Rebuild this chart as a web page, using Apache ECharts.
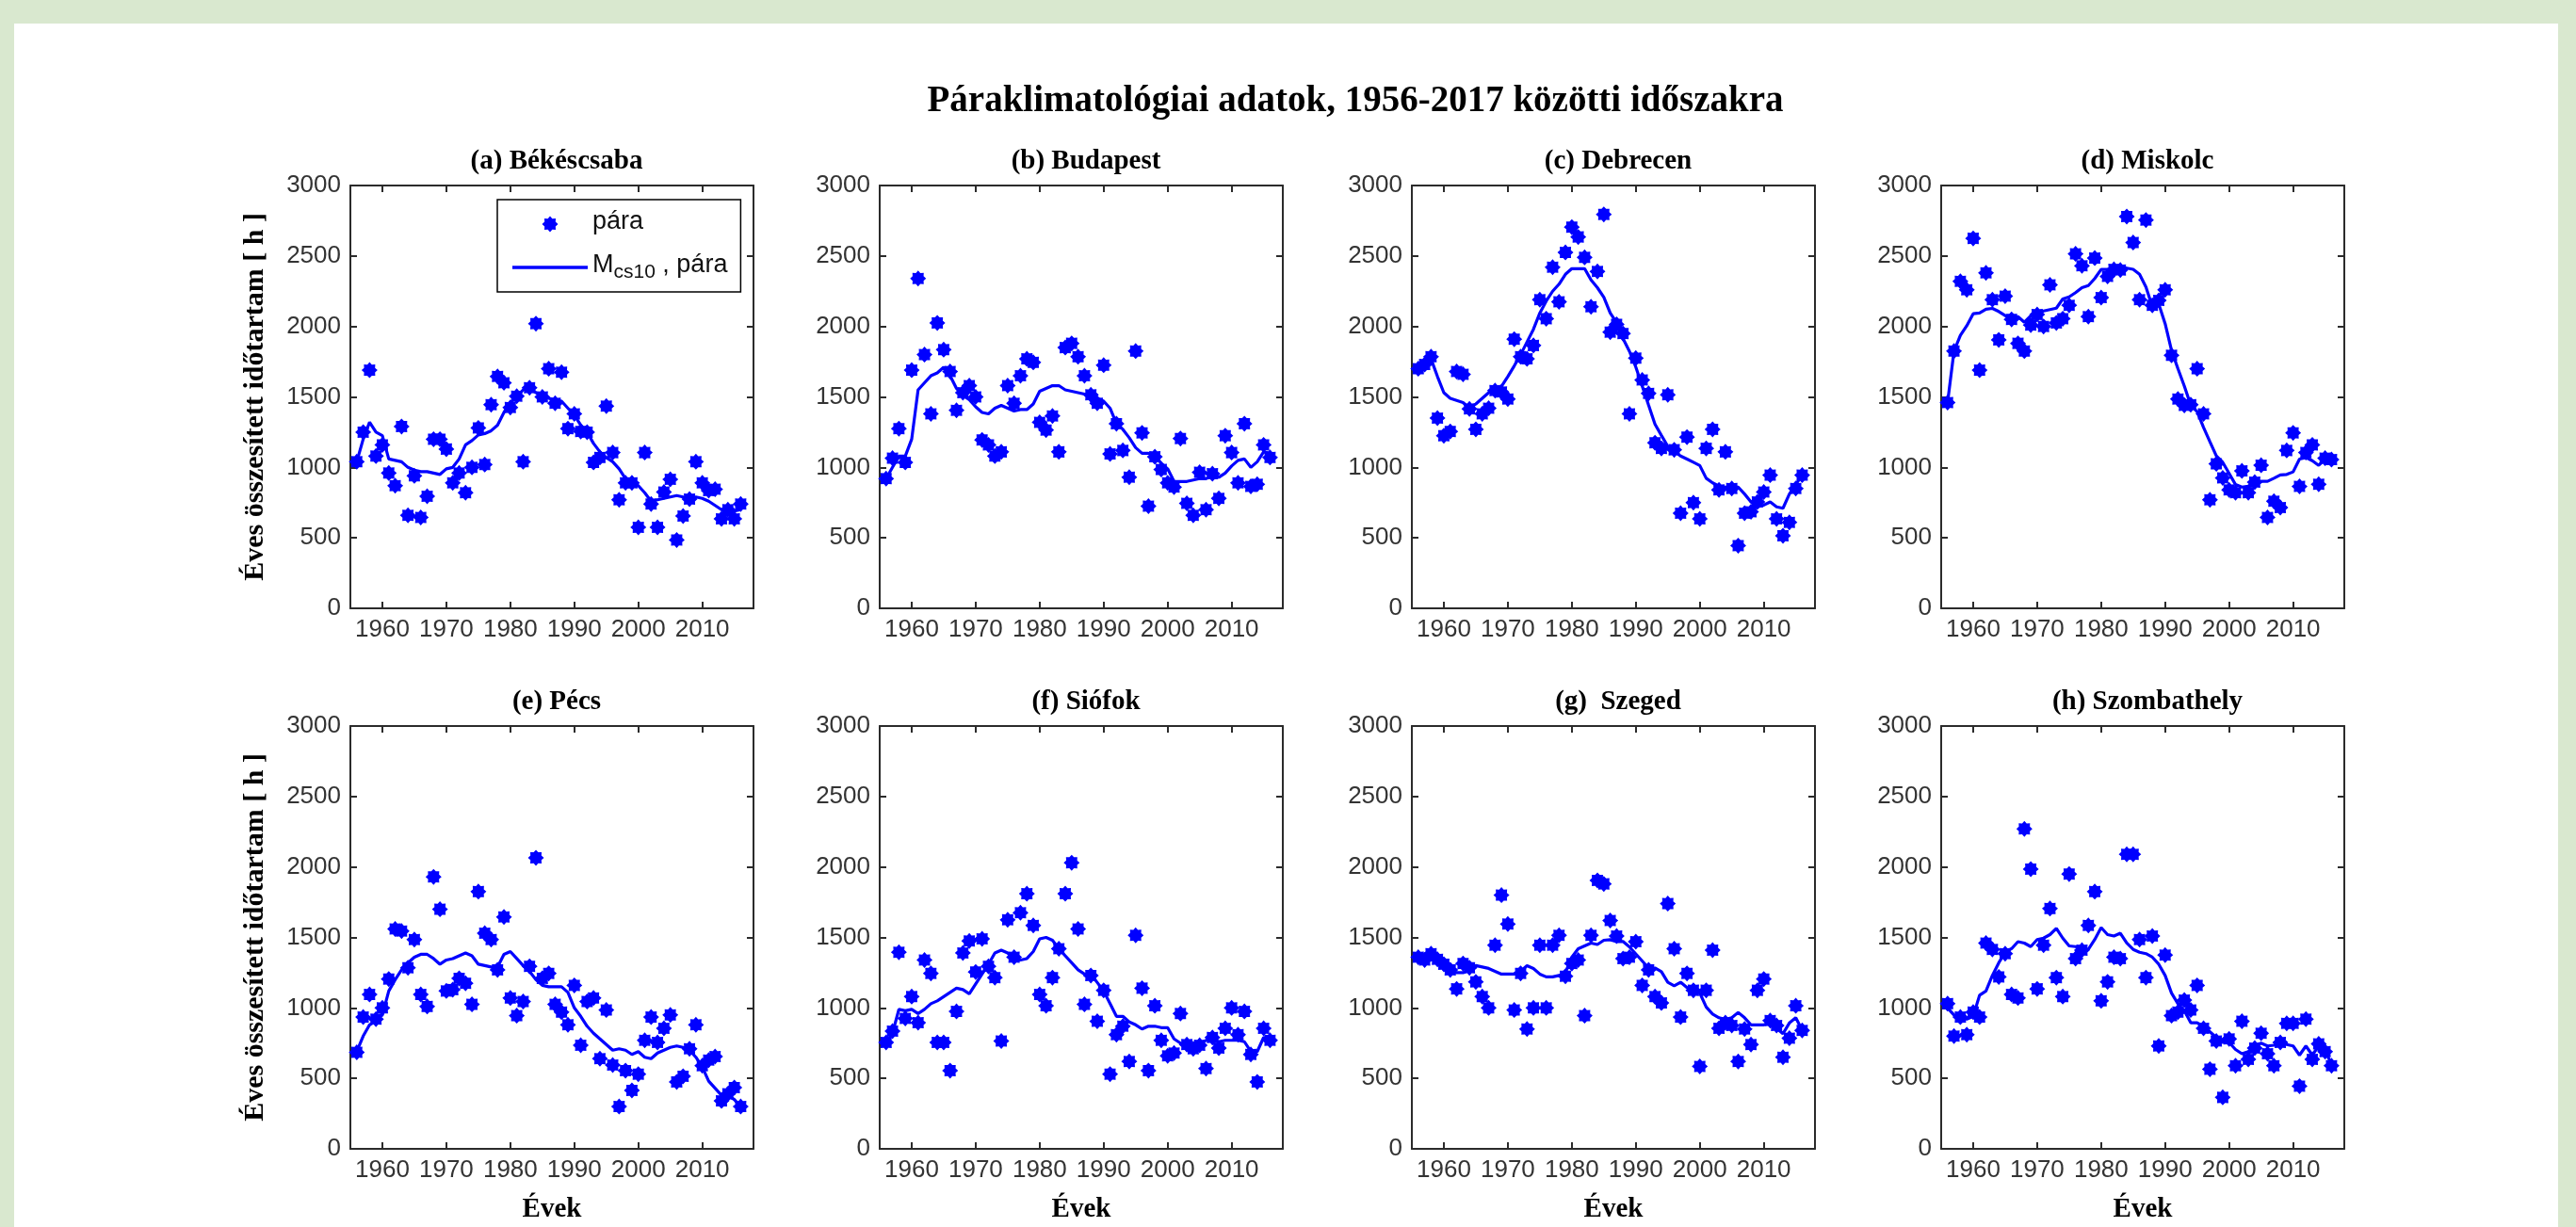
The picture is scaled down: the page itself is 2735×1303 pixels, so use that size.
<!DOCTYPE html>
<html>
<head>
<meta charset="utf-8">
<script src="https://cdn.jsdelivr.net/npm/echarts@6/dist/echarts.min.js"></script>
<style>
  html, body { margin: 0; padding: 0; background: #d9e8cf; }
  #paper { position: absolute; left: 15px; top: 25px; width: 2701px; height: 1278px; background: #fff; }
  #chart { position: absolute; left: 0; top: 0; width: 2735px; height: 1303px; }
</style>
</head>
<body>
<div id="paper"></div>
<div id="chart"></div>
<script>
// évek (x)
const years = [1956, 1957, 1958, 1959, 1960, 1961, 1962, 1963, 1964, 1965,
  1966, 1967, 1968, 1969, 1970, 1971, 1972, 1973, 1974, 1975,
  1976, 1977, 1978, 1979, 1980, 1981, 1982, 1983, 1984, 1985,
  1986, 1987, 1988, 1989, 1990, 1991, 1992, 1993, 1994, 1995,
  1996, 1997, 1998, 1999, 2000, 2001, 2002, 2003, 2004, 2005,
  2006, 2007, 2008, 2009, 2010, 2011, 2012, 2013, 2014, 2015, 2016]
const yearTicks = [1960, 1970, 1980, 1990, 2000, 2010]

const stationTitles = ['(a) Békéscsaba', '(b) Budapest', '(c) Debrecen', '(d) Miskolc',
  '(e) Pécs', '(f) Siófok', '(g)  Szeged', '(h) Szombathely']

// éves pára órák
const paraA = [1040, 1250, 1690, 1080, 1160, 960, 870, 1290, 660, 940,
  645, 795, 1200, 1200, 1130, 890, 960, 820, 1000, 1280,
  1020, 1445, 1645, 1600, 1425, 1505, 1040, 1565, 2020, 1500,
  1700, 1455, 1675, 1275, 1380, 1255, 1250, 1035, 1070, 1435,
  1105, 770, 890, 890, 575, 1105, 740, 575, 825, 915,
  485, 655, 775, 1040, 890, 835, 845, 635, 700, 635, 740]
const paraB = [920, 1065, 1275, 1035, 1690, 2340, 1800, 1380, 2025, 1835,
  1680, 1405, 1530, 1580, 1500, 1195, 1160, 1080, 1110, 1580,
  1455, 1650, 1770, 1745, 1320, 1265, 1365, 1110, 1850, 1880,
  1785, 1650, 1515, 1455, 1725, 1095, 1310, 1120, 930, 1825,
  1245, 725, 1075, 985, 890, 860, 1205, 745, 660, 965,
  700, 955, 780, 1225, 1105, 890, 1310, 865, 880, 1160, 1070]
const paraC = [1700, 1730, 1785, 1350, 1225, 1255, 1680, 1660, 1415, 1270,
  1380, 1420, 1545, 1535, 1485, 1910, 1785, 1770, 1865, 2190,
  2055, 2420, 2175, 2525, 2705, 2635, 2490, 2140, 2390, 2795,
  1960, 2015, 1950, 1380, 1775, 1620, 1525, 1175, 1135, 1515,
  1125, 675, 1215, 750, 635, 1135, 1270, 840, 1110, 850,
  445, 675, 685, 755, 825, 945, 635, 515, 610, 850, 945]
const paraD = [1460, 1825, 2320, 2260, 2625, 1690, 2380, 2190, 1905, 2215,
  2050, 1880, 1825, 2010, 2085, 2000, 2295, 2025, 2055, 2150,
  2515, 2430, 2070, 2485, 2205, 2355, 2405, 2400, 2780, 2595,
  2190, 2755, 2150, 2185, 2260, 1795, 1485, 1440, 1445, 1700,
  1380, 770, 1025, 925, 840, 820, 975, 820, 895, 1015,
  645, 760, 715, 1120, 1245, 865, 1105, 1160, 880, 1065, 1055]
const paraE = [685, 935, 1095, 920, 1000, 1205, 1560, 1545, 1285, 1485,
  1095, 1010, 1930, 1700, 1120, 1130, 1210, 1175, 1025, 1825,
  1530, 1485, 1270, 1645, 1070, 945, 1045, 1295, 2065, 1210,
  1245, 1025, 970, 880, 1160, 735, 1045, 1070, 640, 985,
  595, 300, 555, 415, 530, 770, 935, 755, 855, 950,
  475, 515, 710, 880, 590, 630, 655, 340, 390, 435, 300]
const paraF = [755, 835, 1395, 925, 1080, 895, 1340, 1245, 755, 755,
  555, 975, 1390, 1475, 1255, 1490, 1295, 1215, 765, 1625,
  1360, 1675, 1810, 1585, 1095, 1015, 1215, 1420, 1810, 2030,
  1560, 1025, 1230, 905, 1125, 530, 810, 870, 620, 1515,
  1140, 555, 1015, 770, 660, 680, 960, 740, 710, 735,
  570, 790, 715, 855, 1000, 810, 975, 670, 475, 855, 770]
const paraG = [1360, 1340, 1385, 1345, 1310, 1270, 1135, 1315, 1285, 1185,
  1080, 1000, 1445, 1800, 1595, 985, 1245, 850, 1000, 1445,
  1000, 1445, 1515, 1225, 1315, 1340, 945, 1515, 1905, 1880,
  1620, 1510, 1350, 1360, 1470, 1160, 1270, 1080, 1035, 1740,
  1420, 935, 1245, 1125, 585, 1125, 1410, 855, 895, 875,
  620, 850, 740, 1125, 1205, 910, 875, 650, 785, 1015, 840]
const paraH = [1030, 800, 935, 810, 970, 935, 1460, 1415, 1220, 1385,
  1095, 1070, 2270, 1985, 1135, 1445, 1705, 1215, 1080, 1950,
  1350, 1410, 1585, 1825, 1050, 1185, 1360, 1350, 2090, 2090,
  1485, 1215, 1510, 730, 1375, 945, 970, 1055, 985, 1160,
  855, 565, 765, 365, 780, 590, 905, 635, 715, 820,
  675, 590, 755, 890, 890, 445, 920, 635, 745, 690, 590]

// Mcs10 simított görbék
const mcsA = [1040, 1200, 1320, 1250, 1225, 1060, 1050, 1040, 1000, 980,
  970, 970, 960, 950, 990, 1000, 1060, 1160, 1190, 1230,
  1240, 1260, 1300, 1390, 1460, 1500, 1550, 1570, 1530, 1500,
  1490, 1480, 1470, 1420, 1370, 1300, 1250, 1170, 1110, 1070,
  1040, 990, 920, 890, 870, 820, 760, 770, 780, 790,
  800, 790, 780, 790, 780, 760, 730, 700, 690, 690, 700]
const mcsB = [920, 1000, 1080, 1080, 1200, 1550, 1600, 1650, 1670, 1710,
  1650, 1560, 1510, 1480, 1430, 1390, 1380, 1420, 1440, 1420,
  1400, 1410, 1410, 1450, 1540, 1560, 1580, 1580, 1550, 1540,
  1530, 1520, 1520, 1490, 1470, 1420, 1310, 1270, 1210, 1140,
  1100, 1100, 1080, 1030, 990, 900, 900, 900, 910, 920,
  920, 940, 930, 960, 1010, 1050, 1060, 1000, 1040, 1110, 1100]
const mcsC = [1700, 1735, 1770, 1645, 1530, 1490, 1475, 1460, 1420, 1450,
  1490, 1530, 1560, 1575, 1645, 1720, 1800, 1890, 1980, 2095,
  2180, 2250, 2300, 2370, 2410, 2410, 2410, 2330, 2275, 2207,
  2095, 2027, 1914, 1824, 1712, 1577, 1441, 1306, 1227, 1149,
  1115, 1081, 1059, 1036, 1013, 923, 890, 867, 860, 867,
  860, 811, 755, 720, 732, 755, 720, 710, 811, 878, 946]
const mcsD = [1460, 1824, 1937, 2005, 2090, 2095, 2122, 2128, 2106, 2077,
  2060, 2070, 2030, 2075, 2095, 2110, 2120, 2130, 2195, 2210,
  2240, 2275, 2290, 2340, 2405, 2405, 2410, 2414, 2414, 2405,
  2370, 2280, 2140, 2160, 2020, 1830, 1700, 1577, 1441, 1396,
  1284, 1182, 1081, 1036, 957, 878, 860, 867, 901, 901,
  901, 923, 946, 950, 968, 1059, 1070, 1047, 1014, 1059, 1059]
const mcsE = [690, 800, 880, 910, 950, 1120, 1200, 1270, 1320, 1360,
  1380, 1380, 1350, 1310, 1340, 1350, 1370, 1390, 1370, 1310,
  1300, 1290, 1290, 1380, 1400, 1350, 1300, 1260, 1200, 1160,
  1150, 1150, 1150, 1110, 1000, 940, 870, 820, 780, 740,
  700, 710, 700, 670, 690, 650, 640, 680, 700, 720,
  730, 720, 700, 650, 580, 480, 430, 380, 380, 350, 300]
const mcsF = [750, 820, 990, 980, 990, 960, 990, 1030, 1050, 1080,
  1110, 1140, 1130, 1100, 1170, 1240, 1310, 1390, 1410, 1390,
  1340, 1340, 1350, 1400, 1490, 1500, 1480, 1420, 1370, 1320,
  1270, 1240, 1240, 1180, 1120, 1030, 940, 940, 900, 880,
  850, 870, 870, 860, 860, 780, 750, 730, 720, 740,
  770, 780, 760, 770, 770, 770, 760, 690, 690, 790, 780]
const mcsG = [1350, 1350, 1370, 1340, 1310, 1270, 1250, 1250, 1270, 1300,
  1290, 1280, 1260, 1240, 1240, 1240, 1260, 1300, 1280, 1240,
  1220, 1220, 1230, 1250, 1360, 1420, 1440, 1460, 1450, 1480,
  1484, 1471, 1471, 1433, 1383, 1333, 1283, 1283, 1257, 1182,
  1157, 1182, 1144, 1119, 1106, 1006, 956, 930, 918, 930,
  968, 930, 880, 880, 880, 893, 855, 817, 893, 930, 842]
const mcsH = [1000, 950, 930, 920, 940, 1090, 1120, 1230, 1320, 1395,
  1420, 1470, 1460, 1435, 1485, 1495, 1520, 1565, 1495, 1440,
  1435, 1420, 1415, 1485, 1570, 1520, 1510, 1530, 1460, 1415,
  1395, 1385, 1360, 1310, 1230, 1105, 1030, 980, 895, 895,
  870, 830, 790, 755, 755, 705, 675, 690, 730, 750,
  730, 735, 755, 740, 730, 665, 730, 665, 730, 690, 605]

const paraSeries = [paraA, paraB, paraC, paraD, paraE, paraF, paraG, paraH]
const mcsSeries = [mcsA, mcsB, mcsC, mcsD, mcsE, mcsF, mcsG, mcsH]

// elrendezés
const colLeft = [372, 934, 1499, 2061]
const rowTop = [197, 771]
const boxW = 428
const boxH = 449
const blue = '#0000ff'
const frame = '#2b2b2b'

// csillag jelölő (MATLAB '*', vastag)
const starPath = (() => {
  let d = ''
  for (let i = 0; i < 16; i++) {
    const a = i * Math.PI / 8 - Math.PI / 2
    const r = i % 2 === 0 ? 10 : 7.4
    d += (i === 0 ? 'M' : 'L') + (r * Math.cos(a)).toFixed(2) + ' ' + (r * Math.sin(a)).toFixed(2) + ' '
  }
  return 'path://' + d + 'Z'
})()

const chart = echarts.init(document.getElementById('chart'))

const grids = []
const xAxes = []
const yAxes = []
const series = []
const titles = [{
  text: 'Páraklimatológiai adatok, 1956-2017 közötti időszakra',
  left: 1434,
  top: 83,
  textAlign: 'center',
  textStyle: { fontFamily: 'Liberation Serif', fontWeight: 'bold', fontSize: 39, color: '#000' }
}]

const tickStyle = { color: frame, width: 2 }
const labelStyle = { fontFamily: 'Liberation Sans', fontSize: 26, color: '#333', formatter: v => String(v) }

for (let k = 0; k < 8; k++) {
  const r = Math.floor(k / 4)
  const c = k % 4
  grids.push({ left: colLeft[c], top: rowTop[r], width: boxW, height: boxH, containLabel: false })

  titles.push({
    text: stationTitles[k],
    left: colLeft[c] + boxW / 2,
    top: rowTop[r] - 45,
    textAlign: 'center',
    textStyle: { fontFamily: 'Liberation Serif', fontWeight: 'bold', fontSize: 29, color: '#000' }
  })

  ;['bottom', 'top'].forEach(pos => {
    xAxes.push({
      type: 'value',
      gridIndex: k,
      position: pos,
      min: 1955,
      max: 2018,
      name: pos === 'bottom' && r === 1 ? 'Évek' : '',
      nameLocation: 'middle',
      nameGap: 50,
      nameTextStyle: { fontFamily: 'Liberation Serif', fontWeight: 'bold', fontSize: 29, color: '#000' },
      axisLine: { show: true, onZero: false, lineStyle: tickStyle },
      axisTick: { show: true, inside: true, length: 7, customValues: yearTicks, lineStyle: tickStyle },
      axisLabel: { show: pos === 'bottom', customValues: yearTicks, margin: 10, ...labelStyle },
      splitLine: { show: false }
    })
  })
  ;['left', 'right'].forEach(pos => {
    yAxes.push({
      type: 'value',
      gridIndex: k,
      position: pos,
      min: 0,
      max: 3000,
      interval: 500,
      name: pos === 'left' && c === 0 ? 'Éves összesített időtartam [ h ]' : '',
      nameLocation: 'middle',
      nameRotate: 90,
      nameGap: 86,
      nameTextStyle: { fontFamily: 'Liberation Serif', fontWeight: 'bold', fontSize: 30, color: '#000' },
      axisLine: { show: true, onZero: false, lineStyle: tickStyle },
      axisTick: { show: true, inside: true, length: 7, lineStyle: tickStyle },
      axisLabel: { show: pos === 'left', margin: 10, ...labelStyle },
      splitLine: { show: false }
    })
  })

  series.push({
    name: 'pára',
    type: 'scatter',
    xAxisIndex: 2 * k,
    yAxisIndex: 2 * k,
    symbol: starPath,
    symbolSize: 17,
    itemStyle: { color: blue, opacity: 1 },
    data: years.map((y, i) => [y, paraSeries[k][i]])
  })
  series.push({
    name: 'Mcs10, pára',
    type: 'line',
    xAxisIndex: 2 * k,
    yAxisIndex: 2 * k,
    symbol: 'none',
    lineStyle: { color: blue, width: 3.2 },
    itemStyle: { color: blue },
    data: years.map((y, i) => [y, mcsSeries[k][i]])
  })
}

chart.setOption({
  animation: false,
  title: titles,
  grid: grids,
  xAxis: xAxes,
  yAxis: yAxes,
  legend: {
    data: [
      { name: 'pára' },
      { name: 'Mcs10, pára', icon: 'path://M0 0H80V3.4H0Z' }
    ],
    orient: 'vertical',
    left: 528,
    top: 212,
    backgroundColor: '#fff',
    borderColor: '#000',
    borderWidth: 1.5,
    borderRadius: 0,
    padding: [10, 14, 10, 16],
    itemGap: 14,
    itemWidth: 80,
    itemHeight: 17,
    selectedMode: false,
    formatter: name => name === 'pára' ? '{t|pára}' : '{t|M}{s|cs10}{t| , pára}',
    textStyle: {
      rich: {
        t: { fontFamily: 'Liberation Sans', fontSize: 27, color: '#111', lineHeight: 32, verticalAlign: 'top' },
        s: { fontFamily: 'Liberation Sans', fontSize: 21, color: '#111', lineHeight: 24, padding: [16, 0, 0, 0], verticalAlign: 'bottom' }
      }
    }
  },
  series: series
})
</script>
</body>
</html>
